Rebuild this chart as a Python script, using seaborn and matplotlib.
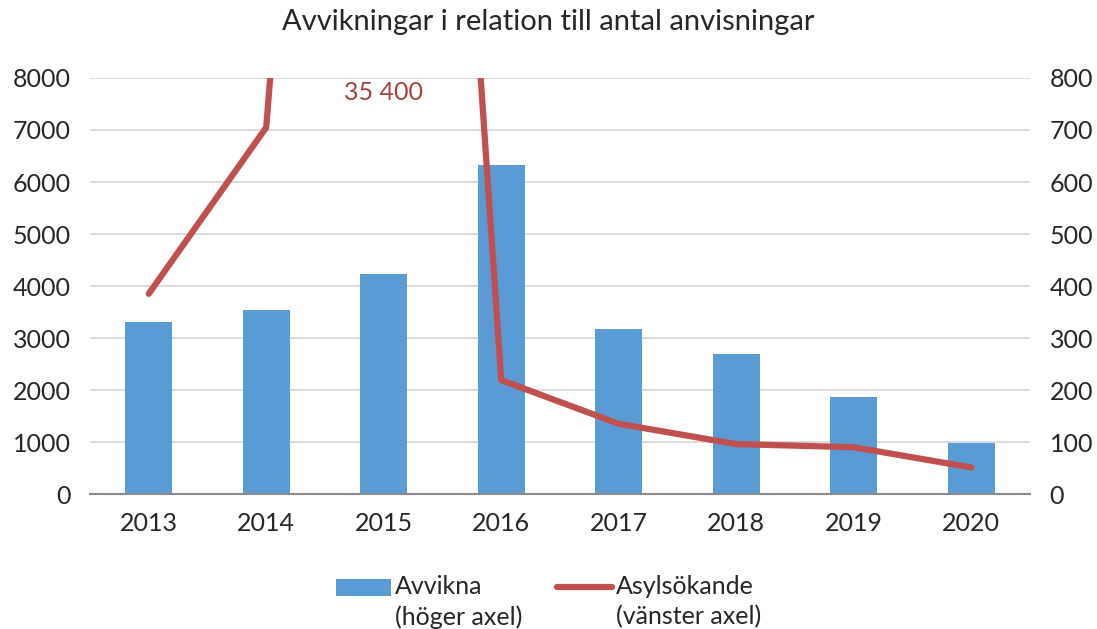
import numpy as np
import pandas as pd
import matplotlib
matplotlib.use("Agg")
import matplotlib.pyplot as plt
import seaborn as sns
from matplotlib.patches import Patch
from matplotlib.lines import Line2D

# ---- data ----
years = ["2013", "2014", "2015", "2016", "2017", "2018", "2019", "2020"]
avvikna = [331, 354, 423, 633, 317, 269, 187, 98]            # right axis
asylsokande = [3850, 7050, 35400, 2190, 1350, 960, 900, 510]  # left axis
peak_label = "35 400"

bar_color = "#5B9BD5"
line_color = "#C0504D"

sns.set_style("white")
plt.rcParams["font.family"] = ["Lato", "DejaVu Sans"]
fs = 18

df = pd.DataFrame({"year": years, "avvikna": avvikna,
                   "asyl": asylsokande, "pos": np.arange(len(years))})

fig = plt.figure(figsize=(10.97, 6.29), dpi=100)
ax = fig.add_axes([0.082, 0.2146, 0.857, 0.6614])  # bars, right scale
ax2 = ax.twinx()                                     # line, left scale

sns.barplot(data=df, x="year", y="avvikna", color=bar_color, width=0.4,
            saturation=1, linewidth=0, ax=ax)
ax.set_ylim(0, 800)
ax.set_xlim(-0.5, len(years) - 0.5)
ax.set_yticks(np.arange(0, 801, 100))
ax.yaxis.tick_right()
ax.grid(axis="y", color="#D9D9D9", linewidth=1.3)
ax.set_axisbelow(True)

sns.lineplot(data=df, x="pos", y="asyl", color=line_color, linewidth=4.5,
             sort=False, legend=False, ax=ax2)
ax2.set_ylim(0, 8000)
ax2.set_yticks(np.arange(0, 8001, 1000))
ax2.yaxis.tick_left()
ax2.text(2, 7730, peak_label, color="#A6403D", fontsize=fs,
         ha="center", va="center")

for a in (ax, ax2):
    a.set_xlabel("")
    a.set_ylabel("")
    for s in ("top", "left", "right", "bottom"):
        a.spines[s].set_visible(False)
ax.spines["bottom"].set_visible(True)
ax.spines["bottom"].set_color("#898989")
ax.spines["bottom"].set_linewidth(1.5)

ax.tick_params(axis="y", length=0, pad=14, labelsize=fs)
ax2.tick_params(axis="y", length=0, pad=14, labelsize=fs)
ax.tick_params(axis="x", which="major", length=0, pad=13, labelsize=fs)
ax.set_xticks(np.arange(-0.5, len(years)), minor=True)
ax.tick_params(axis="x", which="minor", length=7, width=1.5, color="#898989")
ax2.tick_params(axis="x", length=0)
for lbl in ax2.get_xticklabels():
    lbl.set_visible(False)

fig.suptitle("Avvikningar i relation till antal anvisningar",
             fontsize=fs + 3, y=0.985)

handles = [Patch(facecolor=bar_color, edgecolor="none"),
           Line2D([0], [0], color=line_color, linewidth=4.5,
                  solid_capstyle="round")]
labels = ["Avvikna\n(höger axel)", "Asylsökande\n(vänster axel)"]
leg = fig.legend(handles, labels, loc="lower center", ncol=2, frameon=False,
                 fontsize=fs, bbox_to_anchor=(0.5, -0.035), handlelength=2.2,
                 handletextpad=0.15, columnspacing=1.4)
for t in leg.get_texts():
    t.set_linespacing(1.35)

# line the legend keys up with the first text line, as in the original
shift = 11
bar_key, line_key = leg.legend_handles
bar_key.set_y(bar_key.get_y() + shift)
line_key.set_ydata(np.asarray(line_key.get_ydata()) + shift)

fig.savefig("out.png", dpi=100)
